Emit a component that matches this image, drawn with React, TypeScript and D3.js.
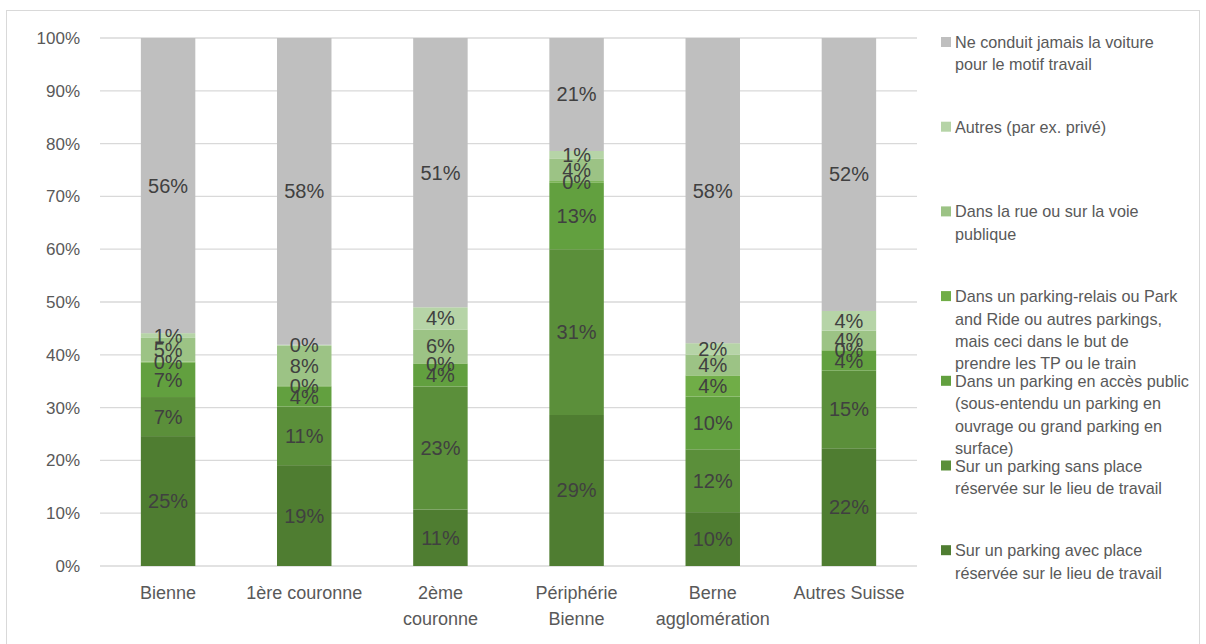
import React from "react";
import * as d3 from "d3";

const categories = ["Bienne", "1ère couronne", "2ème couronne", "Périphérie Bienne", "Berne agglomération", "Autres Suisse"];
const categoryLines = [["Bienne"], ["1ère couronne"], ["2ème", "couronne"], ["Périphérie", "Bienne"], ["Berne", "agglomération"], ["Autres Suisse"]];

const legendLines = [
  ["Sur un parking avec place", "réservée sur le lieu de travail"],
  ["Sur un parking sans place", "réservée sur le lieu de travail"],
  ["Dans un parking en accès public", "(sous-entendu un parking en", "ouvrage ou grand parking en", "surface)"],
  ["Dans un parking-relais ou Park", "and Ride ou autres parkings,", "mais ceci dans le but de", "prendre les TP ou le train"],
  ["Dans la rue ou sur la voie", "publique"],
  ["Autres (par ex. privé)"],
  ["Ne conduit jamais la voiture", "pour le motif travail"],
];
const seriesColors = ["#4f7d31", "#5b8f3a", "#62a03f", "#70ad47", "#9cc385", "#b6d4a7", "#bfbfbf"];

// values in %, per category, bottom to top
const avecPlace = [24.6, 19.1, 10.7, 28.6, 10.2, 22.3];
const sansPlace = [7.4, 11.1, 23.3, 31.4, 11.9, 14.7];
const accesPublic = [6.5, 3.8, 4.3, 12.6, 10.0, 3.8];
const parkRide = [0.2, 0.1, 0.1, 0.3, 4.0, 0.1];
const rue = [4.5, 7.6, 6.4, 4.3, 3.9, 3.7];
const autres = [0.9, 0.2, 4.2, 1.4, 2.2, 3.7];
const jamais = [55.9, 58.1, 51.0, 21.4, 57.8, 51.7];
const seriesValues = [avecPlace, sansPlace, accesPublic, parkRide, rue, autres, jamais];
const yTicks = [0, 10, 20, 30, 40, 50, 60, 70, 80, 90, 100];

const FONT = "'Liberation Sans', Arial, sans-serif";

export default function App() {
  const W = 1206, H = 644;
  const left = 100, right = 917, top = 38, bottom = 566;
  const x = d3.scaleBand<string>().domain(categories).range([left, right]).paddingInner(0.6).paddingOuter(0.3);
  const y = d3.scaleLinear().domain([0, 100]).range([bottom, top]);

  const rows = categories.map((c, i) => {
    const r: any = { cat: c };
    seriesValues.forEach((s, k) => (r["s" + k] = s[i]));
    return r;
  });
  const stack = d3.stack<any>().keys(seriesValues.map((_, k) => "s" + k));
  const stacked = stack(rows);
  const fmt = (v: number) => Math.round(v) + "%";

  const legendX = 941, legendTextX = 955, legendTop = 48, legendStep = 84.7, lineH = 22.4;
  const legendOrder = [6, 5, 4, 3, 2, 1, 0];

  return (
    <svg width={W} height={H} style={{ position: "absolute", left: 0, top: 0, fontFamily: FONT }}>
      <rect x={0} y={0} width={W} height={H} fill="#fff" />
      <rect x={6.5} y={10.5} width={1193} height={640} fill="none" stroke="#d9d9d9" />
      {yTicks.map((t) => (
        <g key={t}>
          <line x1={left} x2={right} y1={y(t)} y2={y(t)} stroke="#d9d9d9" strokeWidth={1.3} />
          <text x={80} y={y(t)} dy="0.35em" textAnchor="end" fontSize={17} fill="#595959">{t}%</text>
        </g>
      ))}
      {stacked.map((layer, k) => (
        <g key={k}>
          {layer.map((d, i) => (
            <rect key={i} x={x(categories[i])} y={y(d[1])} width={x.bandwidth()} height={Math.max(0, y(d[0]) - y(d[1]))} fill={seriesColors[k]} />
          ))}
        </g>
      ))}
      {stacked.map((layer, k) => (
        <g key={"l" + k}>
          {layer.map((d, i) => (
            <text key={i} x={(x(categories[i]) as number) + x.bandwidth() / 2} y={y((d[0] + d[1]) / 2)} dy="0.35em" textAnchor="middle" fontSize={20} fill="#404040">
              {fmt(d[1] - d[0])}
            </text>
          ))}
        </g>
      ))}
      {categories.map((c, i) => (
        <text key={c} x={(x(c) as number) + x.bandwidth() / 2} y={599} textAnchor="middle" fontSize={18} fill="#595959">
          {categoryLines[i].map((l, j) => (
            <tspan key={j} x={(x(c) as number) + x.bandwidth() / 2} dy={j === 0 ? 0 : 26}>{l}</tspan>
          ))}
        </text>
      ))}
      {legendOrder.map((k, idx) => {
        const by = legendTop + idx * legendStep;
        return (
          <g key={k}>
            <rect x={legendX} y={by - 11} width={10} height={10} fill={seriesColors[k]} />
            <text x={legendTextX} y={by} fontSize={16.2} fill="#595959">
              {legendLines[k].map((l, j) => (
                <tspan key={j} x={legendTextX} dy={j === 0 ? 0 : lineH}>{l}</tspan>
              ))}
            </text>
          </g>
        );
      })}
    </svg>
  );
}
